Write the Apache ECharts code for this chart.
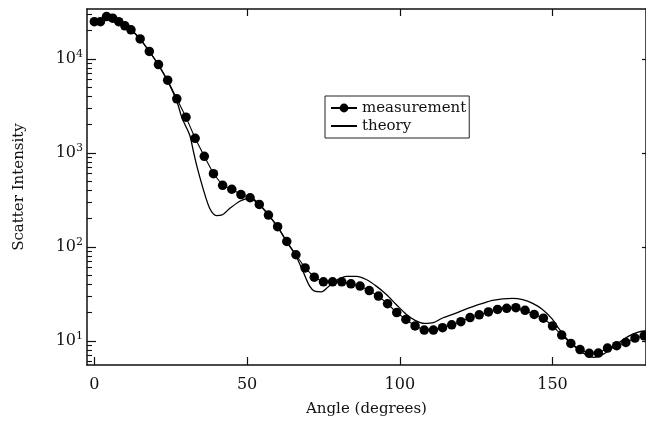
<!DOCTYPE html>
<html><head><meta charset="utf-8">
<script src="https://cdn.jsdelivr.net/npm/echarts@6/dist/echarts.min.js"></script>
<style>html,body{margin:0;padding:0;background:#fff}#c{width:646px;height:422px}</style>
</head><body><div id="c"></div>
<script>
// ---- data ----
const measAngles = [0,2,4,6,8,10,12,15,18,21,24,27,30,33,36,39,42,45,48,51,54,57,60,63,66,69,72,75,78,81,84,87,90,93,96,99,102,105,108,111,114,117,120,123,126,129,132,135,138,141,144,147,150,153,156,159,162,165,168,171,174,177,180];
const measValues = [24900,24900,28200,27100,24900,22500,20400,16300,12000,8710,5940,3760,2400,1430,918,600,452,410,360,333,283,218,164,114,82.4,59.6,47.5,42.4,42.4,42.4,40.4,38.2,34.3,29.9,24.8,20.0,16.9,14.4,13.0,13.0,13.8,14.8,16.0,17.7,18.9,20.3,21.6,22.2,22.5,21.1,19.1,17.4,14.4,11.5,9.39,8.06,7.36,7.41,8.38,8.87,9.62,10.7,11.3];
const theoryAngles = [0,3,6,9,12,15,18,21,24,27,28.6,30,31.3,32.4,33.5,35.6,37.8,40,41.6,44.3,47.6,49.8,51,54,57,60,63,66,68.3,70.5,72.1,74.3,76.5,79.2,82.5,85.8,89,92.3,95.6,98.8,102.1,105,108,111,114,117.3,120.6,123.9,127.1,130.4,133.7,136.9,140.2,143.5,146.7,149.8,152.2,155,158.2,160.9,163.6,166.3,169.1,171.8,175.1,177.8,180.5];
const theoryValues = [25500,27000,27000,24000,20500,16300,12000,8600,5800,3550,2400,1900,1520,1050,735,417,256,215,217,256,306,327,333,285,220,163,113,80,55,38.2,33.8,33.2,37.3,43.8,48.6,48.6,44.9,38.2,31.1,24.4,19.2,16.5,15.3,15.6,17.5,19.1,21.1,23.1,25.0,26.9,28.0,28.3,27.4,25.0,21.6,17.2,13.3,10.2,8.17,7.12,6.68,7.12,8.17,9.62,11.3,12.3,12.8];
const xTickValues = [0,50,100,150];
const xTopTickValues = [50,100,150];
const yTickValues = [10,100,1000,10000];
const yMinorTickValues = [6,7,8,9,20,30,40,50,60,70,80,90,200,300,400,500,600,700,800,900,2000,3000,4000,5000,6000,7000,8000,9000,20000,30000];
const seriesNames = ['measurement','theory'];
const xTitle = 'Angle (degrees)';
const yTitle = 'Scatter Intensity';

// ---- chart ----
const FONT = 'DejaVu Serif';
const INK = '#111';
const X_MIN = -2.4, X_MAX = 180.6, Y_MIN = 5.53, Y_MAX = 33960;
const chart = echarts.init(document.getElementById('c'), null, {renderer:'canvas'});
const measData = measAngles.map((a,i)=>[a, measValues[i]]);
const theoryData = theoryAngles.map((a,i)=>[a, theoryValues[i]]);
const axisLine = {show:true, onZero:false, lineStyle:{color:INK, width:1.5}};
chart.setOption({
  animation:false,
  backgroundColor:'#fff',
  grid:{left:87, top:9, width:560, height:358.7, containLabel:false},
  xAxis:[
    {type:'value', min:X_MIN, max:X_MAX, position:'bottom', axisLine:axisLine,
     axisTick:{inside:true, length:8, customValues:xTickValues, lineStyle:{color:INK, width:1.2}},
     axisLabel:{customValues:xTickValues, margin:12, color:INK, fontFamily:FONT, fontSize:16},
     splitLine:{show:false},
     name:xTitle, nameLocation:'middle', nameGap:37,
     nameTextStyle:{fontFamily:FONT, fontSize:15, color:INK}},
    {type:'value', min:X_MIN, max:X_MAX, position:'top', axisLine:axisLine,
     axisTick:{inside:true, length:7, customValues:xTopTickValues, lineStyle:{color:INK, width:1.2}},
     axisLabel:{show:false}, splitLine:{show:false}}
  ],
  yAxis:[
    {type:'log', logBase:10, min:Y_MIN, max:Y_MAX, position:'left', axisLine:axisLine,
     axisTick:{inside:true, length:9, customValues:yTickValues, lineStyle:{color:INK, width:1.2}},
     axisLabel:{customValues:yTickValues, margin:4,
       formatter:function(v){return '{b|10}{s|'+Math.round(Math.log10(v))+'}';},
       rich:{b:{fontFamily:FONT, fontSize:16, color:INK, lineHeight:20},
             s:{fontFamily:FONT, fontSize:11, color:INK, verticalAlign:'top', lineHeight:12}}},
     splitLine:{show:false},
     name:yTitle, nameLocation:'middle', nameGap:60,
     nameTextStyle:{fontFamily:FONT, fontSize:15, color:INK}},
    {type:'log', logBase:10, min:Y_MIN, max:Y_MAX, position:'left',
     axisLine:{show:false, onZero:false},
     axisTick:{inside:true, length:5, customValues:yMinorTickValues, lineStyle:{color:INK, width:1.1}},
     axisLabel:{show:false}, splitLine:{show:false}},
    {type:'log', logBase:10, min:Y_MIN, max:Y_MAX, position:'right', axisLine:axisLine,
     axisTick:{inside:true, length:4, customValues:yTickValues, lineStyle:{color:INK, width:1.2}},
     axisLabel:{show:false}, splitLine:{show:false}}
  ],
  legend:{
    orient:'vertical', left:325, top:96, padding:[4,3,4,5], itemGap:2,
    itemWidth:26, itemHeight:11, borderColor:'#222', borderWidth:1, backgroundColor:'#fff',
    textStyle:{fontFamily:FONT, fontSize:15, color:INK, lineHeight:16},
    data:[{name:seriesNames[0]}, {name:seriesNames[1], itemStyle:{opacity:0}}]
  },
  series:[
    {name:seriesNames[1], type:'line', xAxisIndex:0, yAxisIndex:0, data:theoryData,
     symbol:'none', smooth:0.3, lineStyle:{color:'#000', width:1.3}, itemStyle:{color:'#000'}, z:2},
    {name:seriesNames[0], type:'line', xAxisIndex:0, yAxisIndex:0, data:measData,
     symbol:'circle', symbolSize:9.5, showAllSymbol:true,
     lineStyle:{color:'#000', width:1.1}, itemStyle:{color:'#000'}, z:3}
  ]
});
</script></body></html>
